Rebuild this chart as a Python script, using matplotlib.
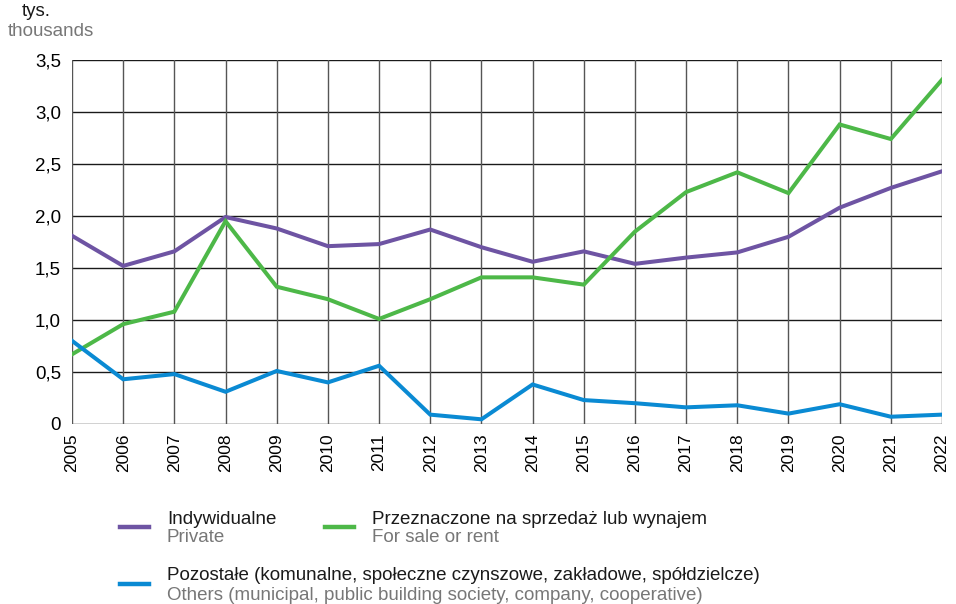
import matplotlib
matplotlib.use("Agg")
import matplotlib.pyplot as plt
from matplotlib.lines import Line2D

plt.rcParams['font.family'] = ['Liberation Sans', 'DejaVu Sans']

years = list(range(2005, 2023))
private = [1.81, 1.52, 1.66, 1.99, 1.88, 1.71, 1.73, 1.87, 1.70, 1.56,
           1.66, 1.54, 1.60, 1.65, 1.80, 2.08, 2.27, 2.43]
for_sale = [0.67, 0.96, 1.08, 1.95, 1.32, 1.20, 1.01, 1.20, 1.41, 1.41,
            1.34, 1.85, 2.23, 2.42, 2.22, 2.88, 2.74, 3.31]
others = [0.80, 0.43, 0.48, 0.31, 0.51, 0.40, 0.56, 0.09, 0.045, 0.38,
          0.23, 0.20, 0.16, 0.18, 0.10, 0.19, 0.07, 0.09]
y_ticks = [0, 0.5, 1.0, 1.5, 2.0, 2.5, 3.0, 3.5]
y_labels = ["0", "0,5", "1,0", "1,5", "2,0", "2,5", "3,0", "3,5"]

c_priv = "#6E54A3"
c_sale = "#4DB848"
c_oth = "#0A8AD3"

fig = plt.figure(figsize=(9.56, 6.04), dpi=100)
ax = fig.add_axes([72/956, 1-424/604, (942-72)/956, (424-60)/604])

ax.plot(years, private, color=c_priv, lw=2.9, solid_joinstyle='miter', zorder=3)
ax.plot(years, for_sale, color=c_sale, lw=2.9, solid_joinstyle='miter', zorder=3)
ax.plot(years, others, color=c_oth, lw=2.9, solid_joinstyle='miter', zorder=3)

ax.set_xlim(years[0], years[-1])
ax.set_ylim(0, 3.5)
ax.set_yticks(y_ticks)
ax.set_yticklabels(y_labels, fontsize=13.5)
ax.set_xticks(years)
ax.set_xticklabels([str(y) for y in years], rotation=90, fontsize=12.5)
ax.tick_params(length=0, pad=8)
ax.tick_params(axis='x', pad=7)
for y in y_ticks:
    ax.axhline(y, color="#1a1a1a", lw=1.0, zorder=1)
for x in years:
    ax.axvline(x, color="#555555", lw=1.0, zorder=1)
for s in ax.spines.values():
    s.set_visible(False)

fig.text(36/956, 1-12/604, "tys.", fontsize=13.5, ha='center', va='center', color="#1a1a1a")
fig.text(51/956, 1-31/604, "thousands", fontsize=13.5, ha='center', va='center', color="#777777")

def leg(x0, y0, color, t1, t2):
    fig.add_artist(Line2D([x0/956, (x0+29)/956], [1-y0/604, 1-y0/604],
                          color=color, lw=3.2, transform=fig.transFigure))
    fig.text((x0+47)/956, 1-(y0-8)/604, t1, fontsize=13.5, va='center', ha='left', color="#1a1a1a")
    fig.text((x0+47)/956, 1-(y0+11)/604, t2, fontsize=13.5, va='center', ha='left', color="#777777")

leg(120, 527, c_priv, "Indywidualne", "Private")
leg(325, 527, c_sale, "Przeznaczone na sprzedaż lub wynajem", "For sale or rent")
leg(120, 584, c_oth, "Pozostałe (komunalne, społeczne czynszowe, zakładowe, spółdzielcze)",
    "Others (municipal, public building society, company, cooperative)")

fig.savefig("out.png", dpi=100)
